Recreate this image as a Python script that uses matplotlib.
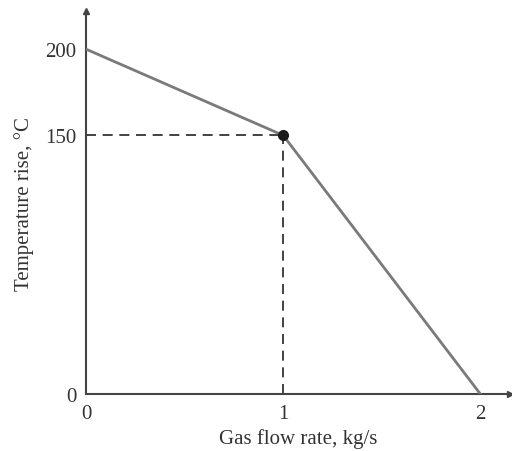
import matplotlib.pyplot as plt

flow = [0, 1, 2]
temp = [200, 150, 0]
knee_x = 1
knee_y = 150
xticks = [0, 1, 2]
yticks = [0, 150, 200]

plt.rcParams['font.family'] = ['Liberation Serif', 'DejaVu Serif']

fig = plt.figure(figsize=(5.12, 4.52), dpi=100)
ax = fig.add_axes([0.168, 0.126, 0.828, 0.847])

ax.plot(flow, temp, color='#7a7a7a', lw=2, zorder=3)
ax.plot([0, knee_x], [knee_y, knee_y], color='#222222', lw=1.2, ls=(0, (6, 4)))
ax.plot([knee_x, knee_x], [0, knee_y], color='#222222', lw=1.2, ls=(0, (6, 4)))
ax.plot([knee_x], [knee_y], 'o', color='#1a1a1a', ms=7, zorder=4)

ax.set_xlim(0, 2.15)
ax.set_ylim(0, 222)
ax.set_xticks(xticks)
ax.set_yticks(yticks)
ax.tick_params(length=0, labelsize=15, colors='#333333', pad=7)

for s in ['top', 'right']:
    ax.spines[s].set_visible(False)
for s in ['left', 'bottom']:
    ax.spines[s].set_color('#444444')
    ax.spines[s].set_linewidth(1.5)

# arrow heads at the axis ends
ax.plot(1, 0, '>', color='#444444', ms=5, transform=ax.transAxes, clip_on=False)
ax.plot(0, 1, '^', color='#444444', ms=5, transform=ax.transAxes, clip_on=False)

ax.set_xlabel('Gas flow rate, kg/s', fontsize=15, color='#333333', labelpad=4)
ax.set_ylabel('Temperature rise, °C', fontsize=15, color='#333333', labelpad=8)

fig.savefig('out.png', dpi=100)
